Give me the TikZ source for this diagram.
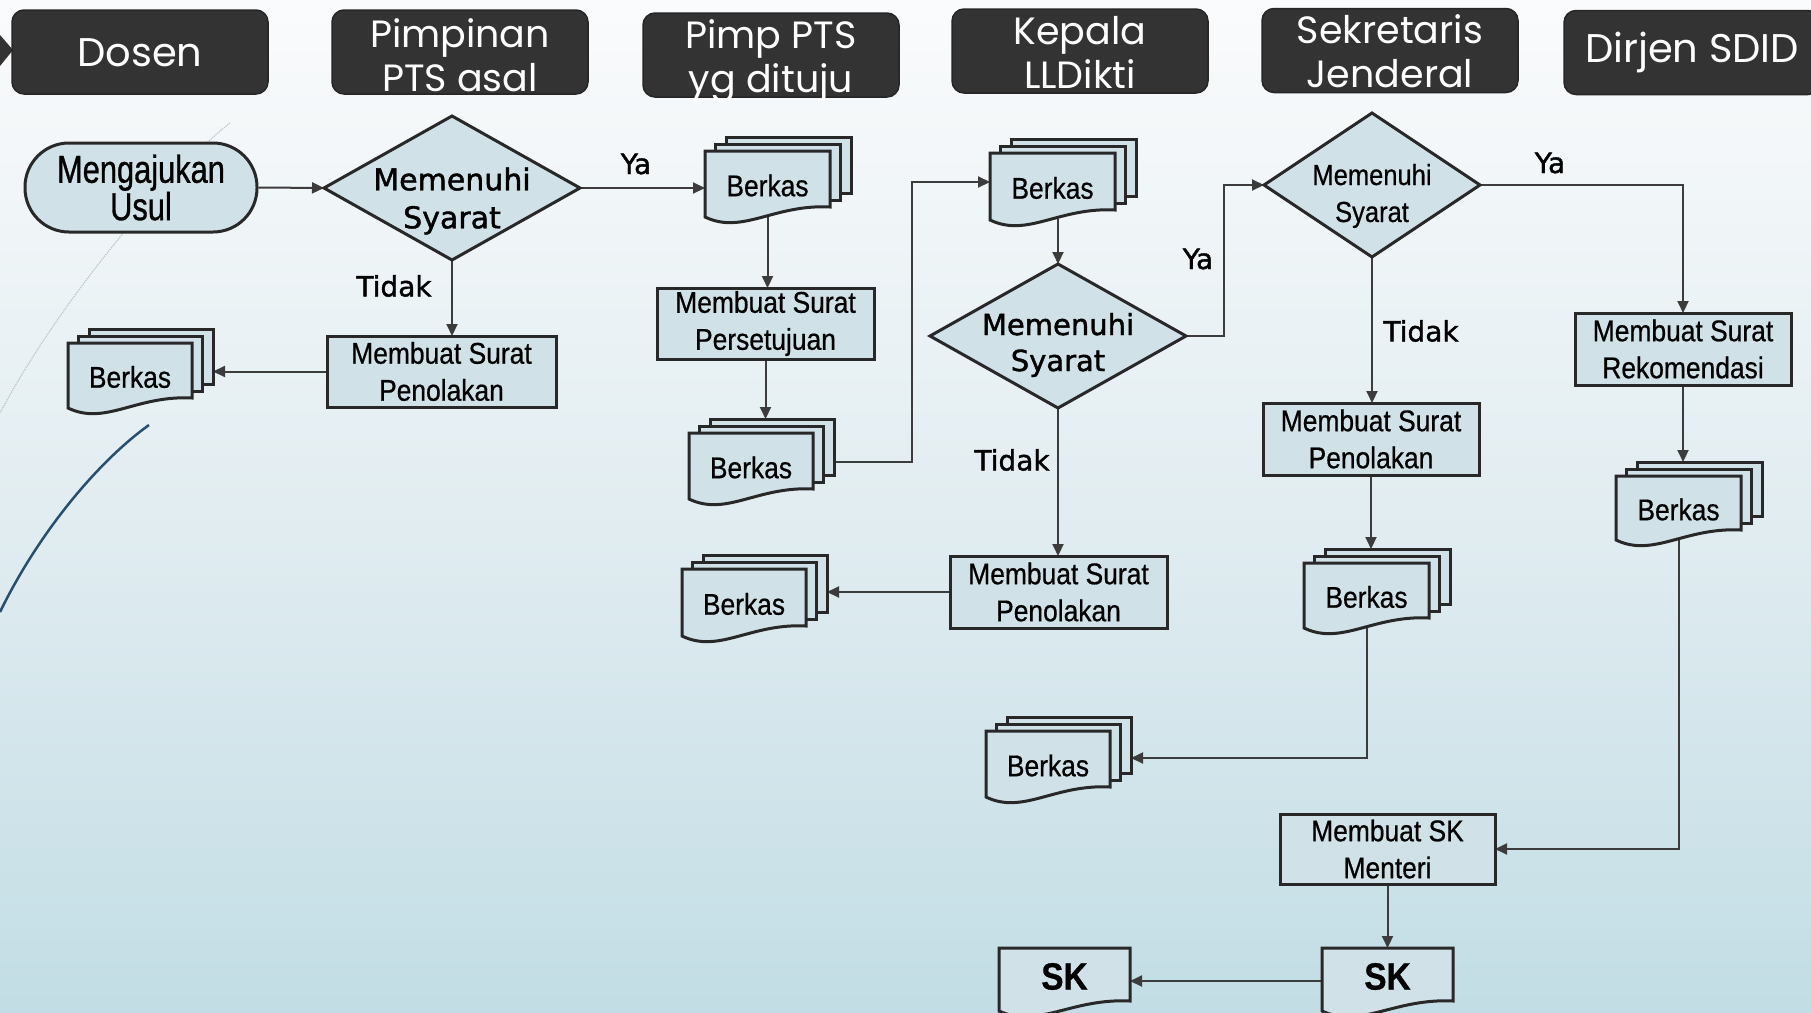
\documentclass[tikz,border=0pt]{standalone}
\usepackage{fontspec}
\usetikzlibrary{shapes.geometric,arrows.meta,calc}
\newfontfamily\narrowf[FakeStretch=0.88,FakeBold=0.6]{Liberation Sans}
\newfontfamily\narrowc[FakeStretch=0.79,FakeBold=0.8]{Liberation Sans}
\newfontfamily\tahf[FakeBold=1.4]{DejaVu Sans}
\newfontfamily\hdrf{Poppins}
\definecolor{boxfill}{RGB}{208,226,232}
\definecolor{edge}{RGB}{40,40,40}
\definecolor{conncol}{RGB}{60,60,60}
\definecolor{hdrfill}{RGB}{51,51,51}
\definecolor{bgtop}{RGB}{250,251,252}
\definecolor{bgmid}{RGB}{226,237,241}
\definecolor{bgbot}{RGB}{194,221,229}
\definecolor{decgray}{RGB}{185,198,206}
\definecolor{decblue}{RGB}{40,80,110}
\pgfdeclarelayer{back}
\pgfdeclarelayer{wires}
\pgfsetlayers{back,wires,main}
\tikzset{
  shp/.style={draw=edge, fill=boxfill, line width=3pt, line join=miter},
  docshp/.style={shp, rectangle, inner sep=0pt, outer sep=0pt},
  procbox/.style={shp, rectangle, inner sep=0pt, outer sep=0pt, align=center, font=\narrowf\fontsize{30}{37}\selectfont},
  docanchor/.style={rectangle, draw=none, inner sep=0pt, outer sep=0pt},
  doclabel/.style={inner sep=0pt, font=\narrowf\fontsize{30}{36}\selectfont},
  sklabel/.style={inner sep=0pt, font=\narrowf\bfseries\fontsize{38}{44}\selectfont},
  dia/.style={shp, diamond, inner sep=0pt, outer sep=0pt},
  diatext/.style={inner sep=0pt, align=center},
  lbl/.style={inner sep=0pt, font=\tahf\fontsize{28}{34}\selectfont},
  yalbl/.style={inner sep=0pt, font=\tahf\fontsize{28}{32}\selectfont},
  hdr/.style={rectangle, rounded corners=12pt, fill=hdrfill, draw=black!85, line width=1.5pt, minimum width=256pt, minimum height=84pt, inner sep=0pt},
  hdrtext/.style={text=white, inner sep=0pt, font=\hdrf\fontsize{38}{44}\selectfont},
  conn/.style={draw=conncol, line width=2pt, -{Triangle[length=12pt,width=11pt]}},
}
% multi-document: name, left x, top y, width, height, text
\newcommand\mdoc[6]{%
  \node[docshp, minimum width=#4pt, minimum height=#5pt, anchor=north west] (#1-c) at ({#2+21},{#3-14}) {};
  \node[docshp, minimum width=#4pt, minimum height=#5pt, anchor=north west] (#1-b) at ({#2+10.5},{#3-7}) {};
  \draw[shp] (#2,#3) -- ({#2+#4},#3) -- ({#2+#4},{#3+#5}) .. controls ({#2+0.55*#4},{#3+#5-3}) and ({#2+0.3*#4},{#3+#5+28}) .. (#2,{#3+#5+10}) -- cycle;
  \node[docanchor, minimum width=#4pt, minimum height=#5pt] (#1) at ({#2+#4/2},{#3+#5/2}) {};
  \node[doclabel] (#1-t) at ({#2+#4/2},{#3+#5/2+6.5}) {#6};
  \coordinate (#1-bot) at ({#2+0.5*#4},{#3+#5+9});
}
% single document
\newcommand\skdoc[6]{%
  \draw[shp] (#2,#3) -- ({#2+#4},#3) -- ({#2+#4},{#3+#5}) .. controls ({#2+0.55*#4},{#3+#5-3}) and ({#2+0.3*#4},{#3+#5+28}) .. (#2,{#3+#5+10}) -- cycle;
  \node[docanchor, minimum width=#4pt, minimum height=#5pt] (#1) at ({#2+#4/2},{#3+#5/2}) {};
  \node[sklabel] (#1-t) at ({#2+#4/2},{#3+#5/2+2}) {#6};
}
\begin{document}
\begin{tikzpicture}[x=1pt,y=-1pt]
\useasboundingbox (0,0) rectangle (1811,1012);
\begin{pgfonlayer}{back}
  \shade[top color=bgtop, bottom color=bgbot, middle color=bgmid] (0,0) rectangle (1811,1012);
  \draw[draw=decgray, line width=1.2pt, densely dotted] (230,123) .. controls (170,170) and (60,300) .. (0,413);
  \draw[draw=decblue, line width=2.5pt] (149,425) .. controls (100,460) and (40,530) .. (0,612);
\end{pgfonlayer}
\clip (0,0) rectangle (1811,1012);

% headers
\fill[hdrfill] (0,35) -- (13,50) -- (0,66) -- cycle;
\node[hdr] (h1) at (140,52) {};
\node[hdrtext, font=\hdrf\fontsize{40}{46}\selectfont] (h1t) at (140,52.5) {Dosen};
\node[hdr] (h2) at (460,52) {};
\node[hdrtext, anchor=base] (h2a) at (460,47) {Pimpinan};
\node[hdrtext, anchor=base] (h2b) at (460,91) {PTS asal};
\node[hdr] (h3) at (771,55) {};
\node[hdrtext, anchor=base] (h3a) at (771,48) {Pimp PTS};
\node[hdrtext, anchor=base] (h3b) at (771,92) {yg dituju};
\node[hdr] (h4) at (1080,51) {};
\node[hdrtext, anchor=base] (h4a) at (1080,44) {Kepala};
\node[hdrtext, anchor=base] (h4b) at (1080,88) {LLDikti};
\node[hdr] (h5) at (1390,50.5) {};
\node[hdrtext, anchor=base] (h5a) at (1390,43) {Sekretaris};
\node[hdrtext, anchor=base] (h5b) at (1390,87) {Jenderal};
\node[hdr] (h6) at (1692,52.5) {};
\node[hdrtext, font=\hdrf\fontsize{40}{46}\selectfont] (h6t) at (1692,52.5) {Dirjen SDID};

% start
\node[shp, rectangle, rounded corners=44pt, minimum width=232pt, minimum height=89pt, inner sep=0pt, align=center, font=\narrowc\fontsize{39}{34}\selectfont] (mu) at (141,187.5) {Mengajukan\\Usul};

% decisions
\node[dia, minimum width=256pt, minimum height=144pt] (d1) at (452,188) {};
\node[diatext, font=\tahf\fontsize{30}{38}\selectfont] (d1t) at (452,201) {Memenuhi\\Syarat};
\node[dia, minimum width=256pt, minimum height=144pt] (d2) at (1058,336) {};
\node[diatext, font=\tahf\fontsize{29}{36}\selectfont] (d2t) at (1058,345) {Memenuhi\\Syarat};
\node[dia, minimum width=216pt, minimum height=144pt] (d3) at (1372,185) {};
\node[diatext, font=\narrowf\fontsize{29}{37}\selectfont] (d3t) at (1372,196) {Memenuhi\\Syarat};

% processes
\node[procbox, minimum width=229pt, minimum height=71pt] (p1) at (441.5,371.5) {Membuat Surat\\Penolakan};
\node[procbox, minimum width=217pt, minimum height=71pt] (ps) at (765.5,323.5) {Membuat Surat\\Persetujuan};
\node[procbox, minimum width=217pt, minimum height=72pt] (p2) at (1058.5,592) {Membuat Surat\\Penolakan};
\node[procbox, minimum width=216pt, minimum height=72pt] (p3) at (1371,439) {Membuat Surat\\Penolakan};
\node[procbox, minimum width=216pt, minimum height=72pt] (rk) at (1683,349) {Membuat Surat\\Rekomendasi};
\node[procbox, minimum width=215pt, minimum height=70pt] (skm) at (1387.5,849) {Membuat SK\\Menteri};

% documents
\mdoc{b0}{68}{343}{124}{55}{Berkas}
\mdoc{b1}{705}{151}{125}{56}{Berkas}
\mdoc{b2}{689}{433}{124}{56}{Berkas}
\mdoc{b3}{990}{153}{125}{57}{Berkas}
\mdoc{b4}{682}{569}{124}{57}{Berkas}
\mdoc{b5}{1616}{476}{125}{54}{Berkas}
\mdoc{b6}{1304}{563}{125}{55}{Berkas}
\mdoc{b7}{986}{731}{124}{56}{Berkas}
\skdoc{sk1}{999}{948}{131}{53}{SK}
\skdoc{sk2}{1322}{948}{131}{53}{SK}

% labels
\node[yalbl] (ya1) at (636,164) {Ya};
\node[yalbl] (ya2) at (1198,259) {Ya};
\node[yalbl] (ya3) at (1550,163) {Ya};
\node[lbl] (td1) at (394,286) {Tidak};
\node[lbl] (td2) at (1012,460) {Tidak};
\node[lbl] (td3) at (1421,331) {Tidak};

% connectors
\begin{pgfonlayer}{wires}
  \draw[conn] (mu.east) -- (d1.west);
  \draw[conn] (d1.east) -- (d1.east -| b1.west);
  \draw[conn] (d1.south) -- (d1.south |- p1.north);
  \draw[conn] (p1.west) -- (p1.west -| b0-c.east);
  \draw[conn] (b1-bot) -- (b1-bot |- ps.north);
  \draw[conn] (ps.south) -- (ps.south |- b2-c.north);
  \coordinate (b2out) at ($(b2-c.east)+(0,15)$);
  \coordinate (j1) at (912,182);
  \draw[conn] (b2out) -| (j1) -- (j1 -| b3.west);
  \draw[conn] (d2.north |- b3-bot) -- (d2.north);
  \coordinate (j2) at (1224,185);
  \draw[conn] (d2.east) -| (j2) -- (d3.west);
  \draw[conn] (d2.south) -- (d2.south |- p2.north);
  \draw[conn] (p2.west) -- (p2.west -| b4-c.east);
  \draw[conn] (d3.east) -| (rk.north);
  \draw[conn] (d3.south) -- (d3.south |- p3.north);
  \draw[conn] (rk.south) -- (rk.south |- b5-c.north);
  \draw[conn] (p3.south) -- (p3.south |- b6-c.north);
  \draw[conn] (b5-bot) |- (skm.east);
  \coordinate (b7in) at ($(b7-c.east)+(0,13)$);
  \draw[conn] (b6-bot) |- (b7in);
  \draw[conn] (skm.south) -- (skm.south |- sk2.north);
  \coordinate (sk2out) at ($(sk2.west)+(0,6.5)$);
  \draw[conn] (sk2out) -- (sk2out -| sk1.east);
\end{pgfonlayer}
\end{tikzpicture}
\end{document}
